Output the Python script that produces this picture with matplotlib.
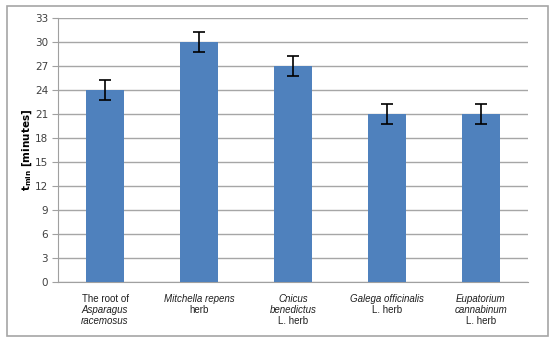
import numpy as np
import matplotlib.pyplot as plt
from matplotlib.patches import Rectangle

# category labels, one list of (text, italic) lines per bar
label_lines = [
    [("The root of", False), ("Asparagus", True), ("racemosus", True)],
    [("Mitchella repens", True), ("herb", False)],
    [("Cnicus", True), ("benedictus", True), ("L. herb", False)],
    [("Galega officinalis", True), ("L. herb", False)],
    [("Eupatorium", True), ("cannabinum", True), ("L. herb", False)],
]
t_min = [24, 30, 27, 21, 21]
t_err = [1.3, 1.3, 1.3, 1.3, 1.3]
y_ticks = [0, 3, 6, 9, 12, 15, 18, 21, 24, 27, 30, 33]

fig = plt.figure(figsize=(5.5, 3.43), dpi=100)
fig.patches.append(Rectangle((7 / 550, 1 - 336 / 343), 541 / 550, 330 / 343,
                             transform=fig.transFigure, fill=False,
                             edgecolor="#a6a6a6", linewidth=1.2))

ax = fig.add_axes([58 / 550, 1 - 282 / 343, 470 / 550, 264 / 343])
x = np.arange(len(t_min))
ax.bar(x, t_min, width=0.4, color="#4f81bd", zorder=3)
ax.errorbar(x, t_min, yerr=t_err, fmt="none", ecolor="black",
            elinewidth=1.2, capsize=4, capthick=1.2, zorder=4)

ax.set_xlim(-0.5, len(t_min) - 0.5)
ax.set_ylim(0, 33)
ax.set_yticks(y_ticks)
ax.tick_params(axis="y", labelsize=7.5, length=4, color="#a0a0a0", pad=3,
               labelcolor="#404040")
ax.set_xticks([])
ax.grid(axis="y", color="#a6a6a6", linewidth=1, zorder=0)
for s in ["top", "right"]:
    ax.spines[s].set_visible(False)
for s in ["left", "bottom"]:
    ax.spines[s].set_color("#a0a0a0")

ax.set_ylabel(r"$\mathbf{t_{min}}$ [minutes]", fontsize=7.5,
              fontweight="bold", labelpad=1)

for i, lines in enumerate(label_lines):
    for j, (txt, ital) in enumerate(lines):
        ax.annotate(txt, xy=(x[i], 0), xycoords=("data", "axes fraction"),
                    xytext=(0, -12.2 - j * 7.9), textcoords="offset points",
                    ha="center", va="center", fontsize=7,
                    style="italic" if ital else "normal", color="#202020",
                    family="Liberation Sans")

fig.savefig("out.png", dpi=100)
